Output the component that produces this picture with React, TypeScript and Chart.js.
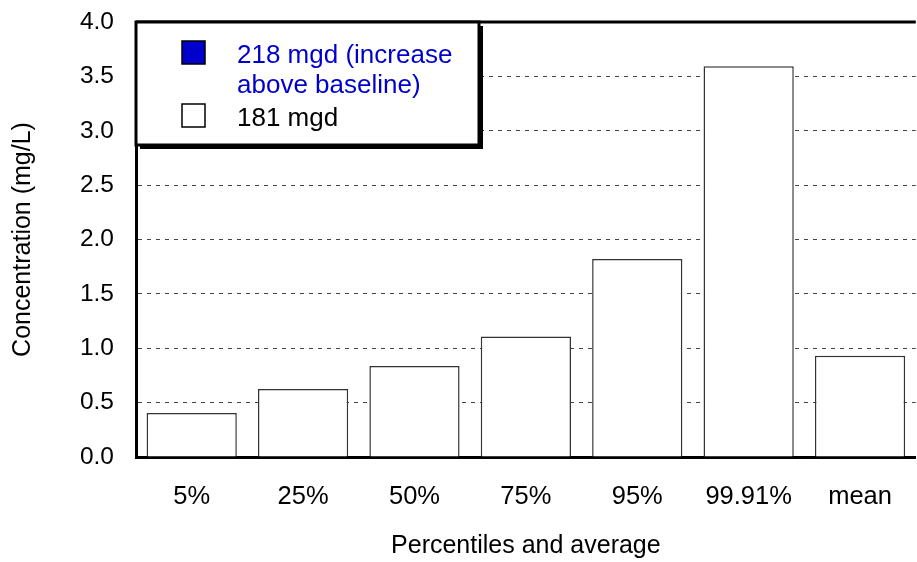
import React, { useEffect, useRef } from "react";
import { Chart, registerables } from "chart.js";

Chart.register(...registerables);

const categories = ["5%", "25%", "50%", "75%", "95%", "99.91%", "mean"];
const baseline181 = [0.405, 0.626, 0.837, 1.108, 1.82, 3.594, 0.93];
const increase218 = [0, 0, 0, 0, 0, 0, 0];
const legendLabels = [["218 mgd (increase", "above baseline)"], ["181 mgd"]];
const yTitle = "Concentration (mg/L)";
const xTitle = "Percentiles and average";

const FONT = '"Liberation Sans", Arial, sans-serif';

const decorPlugin = {
  id: "decor",
  afterDraw(chart: any) {
    const { ctx, chartArea } = chart;
    ctx.save();
    // top border
    ctx.strokeStyle = "#000";
    ctx.lineWidth = 3;
    ctx.beginPath();
    ctx.moveTo(chartArea.left, chartArea.top);
    ctx.lineTo(chartArea.right, chartArea.top);
    ctx.stroke();

    // legend box
    const bx = chartArea.left;
    const by = chartArea.top;
    const bw = 343;
    const bh = 123;
    ctx.fillStyle = "#000";
    ctx.fillRect(bx + 4, by + 4, bw, bh);
    ctx.fillStyle = "#fff";
    ctx.fillRect(bx, by, bw, bh);
    ctx.strokeStyle = "#000";
    ctx.lineWidth = 3;
    ctx.strokeRect(bx, by, bw, bh);

    // swatches
    ctx.lineWidth = 1.5;
    ctx.fillStyle = "#0000CC";
    ctx.fillRect(bx + 46, by + 19, 23, 23);
    ctx.strokeRect(bx + 46, by + 19, 23, 23);
    ctx.fillStyle = "#fff";
    ctx.fillRect(bx + 46, by + 82, 23, 23);
    ctx.strokeRect(bx + 46, by + 82, 23, 23);

    ctx.font = `26px ${FONT}`;
    ctx.textBaseline = "alphabetic";
    ctx.textAlign = "left";
    ctx.fillStyle = "#0000CC";
    ctx.fillText(legendLabels[0][0], bx + 101, by + 41);
    ctx.fillText(legendLabels[0][1], bx + 101, by + 71);
    ctx.fillStyle = "#000";
    ctx.fillText(legendLabels[1][0], bx + 101, by + 104);
    ctx.restore();
  },
};

export default function App() {
  const ref = useRef<HTMLCanvasElement>(null);
  useEffect(() => {
    if (!ref.current) return;
    const chart = new Chart(ref.current, {
      type: "bar",
      data: {
        labels: categories,
        datasets: [
          {
            label: "181 mgd",
            data: baseline181,
            backgroundColor: "#fff",
            borderColor: "#333",
            borderWidth: 1.5,
            barPercentage: 0.81,
            categoryPercentage: 1,
          },
          {
            label: "218 mgd (increase above baseline)",
            data: increase218,
            backgroundColor: "#0000CC",
            borderColor: "#000",
            borderWidth: 0,
            barPercentage: 0.81,
            categoryPercentage: 1,
          },
        ],
      },
      options: {
        animation: false,
        responsive: false,
        layout: { padding: { top: 0, left: 0, right: 1, bottom: 0 } },
        plugins: {
          legend: { display: false },
          tooltip: { enabled: false },
        },
        scales: {
          x: {
            stacked: true,
            grid: { display: false, drawTicks: false },
            border: { display: true, color: "#000", width: 3 },
            ticks: { color: "#000", font: { family: FONT, size: 25.5 }, padding: 25 },
            title: {
              display: true,
              text: xTitle,
              color: "#000",
              font: { family: FONT, size: 25 },
              padding: { top: 0, bottom: 1 },
            },
            afterFit: (s: any) => {
              s.height = 105;
            },
          },
          y: {
            stacked: true,
            min: 0,
            max: 4,
            grid: { color: "#444", lineWidth: 1, drawTicks: false },
            border: { display: true, color: "#000", width: 3, dash: [4, 5] },
            ticks: {
              stepSize: 0.5,
              color: "#000",
              font: { family: FONT, size: 24.5 },
              padding: 22,
              callback: (v: any) => Number(v).toFixed(1),
            },
            title: {
              display: true,
              text: yTitle,
              color: "#000",
              font: { family: FONT, size: 25 },
              padding: { top: 8, bottom: 0 },
            },
            afterFit: (s: any) => {
              s.width = 136;
              s.paddingTop = 22;
              s.paddingBottom = 15;
            },
          },
        },
      },
      plugins: [decorPlugin],
    });
    return () => chart.destroy();
  }, []);
  return (
    <div style={{ position: "absolute", left: 0, top: 0, width: 917, height: 562, background: "#fff" }}>
      <canvas ref={ref} width={917} height={562} style={{ display: "block" }} />
    </div>
  );
}
